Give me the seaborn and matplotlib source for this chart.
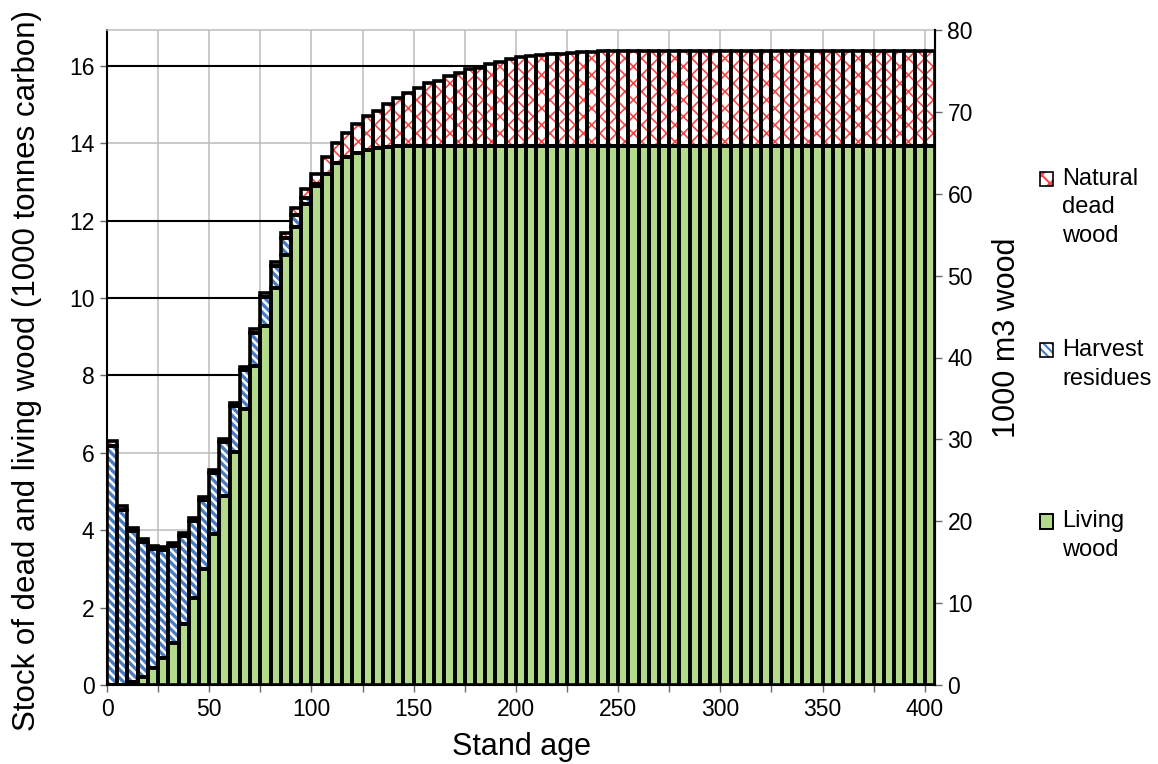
"""
Stacked stock of dead and living wood by stand age
"""

import matplotlib
matplotlib.use("Agg")
import matplotlib.pyplot as plt
import matplotlib.patches as mpatches
from matplotlib.ticker import MultipleLocator
import seaborn as sns
import numpy as np
import pandas as pd

# stand age classes (5-year steps)
ages = list(range(0, 405, 5))

# 1000 tonnes carbon
living = [
    0.00, 0.00, 0.08, 0.21, 0.43, 0.69, 1.08, 1.58, 2.24, 3.00,
    3.90, 4.89, 6.01, 7.13, 8.25, 9.28, 10.25, 11.11, 11.85, 12.43,
    12.90, 13.22, 13.48, 13.65, 13.76, 13.83, 13.87, 13.90, 13.92, 13.92,
    13.92, 13.92, 13.92, 13.92, 13.92, 13.92, 13.92, 13.92, 13.92, 13.92,
    13.92, 13.92, 13.92, 13.92, 13.92, 13.92, 13.92, 13.92, 13.92, 13.92,
    13.92, 13.92, 13.92, 13.92, 13.92, 13.92, 13.92, 13.92, 13.92, 13.92,
    13.92, 13.92, 13.92, 13.92, 13.92, 13.92, 13.92, 13.92, 13.92, 13.92,
    13.92, 13.92, 13.92, 13.92, 13.92, 13.92, 13.92, 13.92, 13.92, 13.92,
    13.92,
]
harvest = [
    6.19, 4.53, 3.89, 3.48, 3.08, 2.80, 2.50, 2.28, 2.00, 1.79,
    1.58, 1.40, 1.21, 1.02, 0.86, 0.75, 0.59, 0.45, 0.30, 0.15,
    0.05, 0.00, 0.00, 0.00, 0.00, 0.00, 0.00, 0.00, 0.00, 0.00,
    0.00, 0.00, 0.00, 0.00, 0.00, 0.00, 0.00, 0.00, 0.00, 0.00,
    0.00, 0.00, 0.00, 0.00, 0.00, 0.00, 0.00, 0.00, 0.00, 0.00,
    0.00, 0.00, 0.00, 0.00, 0.00, 0.00, 0.00, 0.00, 0.00, 0.00,
    0.00, 0.00, 0.00, 0.00, 0.00, 0.00, 0.00, 0.00, 0.00, 0.00,
    0.00, 0.00, 0.00, 0.00, 0.00, 0.00, 0.00, 0.00, 0.00, 0.00,
    0.00,
]
natural = [
    0.12, 0.10, 0.10, 0.09, 0.08, 0.08, 0.08, 0.08, 0.08, 0.08,
    0.08, 0.08, 0.08, 0.08, 0.08, 0.09, 0.10, 0.12, 0.17, 0.23,
    0.27, 0.42, 0.52, 0.62, 0.74, 0.87, 0.97, 1.12, 1.24, 1.39,
    1.50, 1.63, 1.70, 1.82, 1.91, 1.99, 2.04, 2.13, 2.19, 2.25,
    2.30, 2.33, 2.37, 2.39, 2.40, 2.42, 2.44, 2.45, 2.46, 2.47,
    2.47, 2.47, 2.47, 2.47, 2.47, 2.47, 2.47, 2.47, 2.47, 2.47,
    2.47, 2.47, 2.47, 2.47, 2.47, 2.47, 2.47, 2.47, 2.47, 2.47,
    2.47, 2.47, 2.47, 2.47, 2.47, 2.47, 2.47, 2.47, 2.47, 2.47,
    2.47,
]

components = ["Natural dead wood", "Harvest residues", "Living wood"]
legend_labels = ["\n\nNatural\ndead\nwood", "\n\nHarvest\nresidues\n", "\n\nLiving\nwood\n"]

GREEN = "#b3da8a"
BLUE = "#4a7dc0"
RED = "#f44848"
GRID = "#bcbcbc"

sns.set_theme(style="white")
plt.rcParams["font.family"] = ["Liberation Sans", "DejaVu Sans"]
plt.rcParams["text.color"] = "black"
plt.rcParams["axes.labelcolor"] = "black"
plt.rcParams["hatch.linewidth"] = 1.5

df = pd.DataFrame({
    "age": ages * 3,
    "stock": natural + harvest + living,
    "component": np.repeat(components, len(ages)),
})

fig = plt.figure(figsize=(11.58, 7.64), dpi=100)
ax = fig.add_axes([107 / 1158, 1 - 685 / 764, 828 / 1158, 655 / 764])

sns.histplot(data=df, x="age", weights="stock", hue="component",
             hue_order=components, multiple="stack", binwidth=5,
             binrange=(0, 405), palette=["white", "white", GREEN],
             alpha=1, linewidth=0, legend=False, ax=ax)

# style each stacked layer, found by matching bar heights to the data
styles = {
    "Living wood": (living, GREEN, None, None, 0),
    "Harvest residues": (harvest, "white", BLUE, "\\\\\\\\", 2.4),
    "Natural dead wood": (natural, "white", RED, "xx", 1.2),
}
for cont in list(ax.containers):
    heights = np.array([p.get_height() for p in cont.patches])
    for name, (vals, face, hcol, hatch, hlw) in styles.items():
        if len(heights) == len(vals) and np.allclose(heights, vals):
            for p in cont.patches:
                p.set_facecolor(face)
                p.set_linewidth(0)
                if hatch:
                    p.set_edgecolor(hcol)
                    p.set_hatch(hatch)
                    if hasattr(p, "set_hatch_linewidth"):
                        p.set_hatch_linewidth(hlw)
                ax.add_patch(mpatches.Rectangle(
                    p.get_xy(), p.get_width(), p.get_height(), fill=False,
                    edgecolor="black", linewidth=2.6, zorder=3))
            break

ax.set_xlim(0, 405)
ax.set_ylim(0, 16.93)
ax.xaxis.set_major_locator(MultipleLocator(50))
ax.xaxis.set_minor_locator(MultipleLocator(25))
ax.yaxis.set_major_locator(MultipleLocator(2))
ax.set_axisbelow(True)
ax.grid(axis="x", which="both", color=GRID, linewidth=1.1)
ax.grid(axis="y", which="major", color=GRID, linewidth=1.1)
for v in [8, 10, 12, 16]:
    ax.axhline(v, color="black", linewidth=1.5, zorder=0.8)

ax.tick_params(axis="both", which="both", direction="out", length=5, width=1,
               color="#666666", labelsize=16.5, labelcolor="black", pad=4)
ax.tick_params(axis="x", which="both", bottom=True)
ax.tick_params(axis="y", left=True)
for s in ["left", "bottom", "right"]:
    ax.spines[s].set_color("black")
    ax.spines[s].set_linewidth(1.5)
ax.spines["top"].set_color(GRID)
ax.spines["top"].set_linewidth(1.1)

ax.set_xlabel("Stand age", fontsize=22)
ax.set_ylabel("Stock of dead and living wood (1000 tonnes carbon)", fontsize=22.5)
ax.xaxis.set_label_coords(0.5, -0.072)
ax.yaxis.set_label_coords(-0.078, 0.48)

ax2 = ax.twinx()
ax2.set_ylim(0, 80)
ax2.yaxis.set_major_locator(MultipleLocator(10))
ax2.grid(False)
for s in ["left", "bottom", "top"]:
    ax2.spines[s].set_visible(False)
ax2.spines["right"].set_color("black")
ax2.spines["right"].set_linewidth(1.5)
ax2.tick_params(axis="y", direction="out", length=5, width=1, color="#666666",
                labelsize=16.5, labelcolor="black", pad=4, right=True)
ax2.set_ylabel("1000 m3 wood", fontsize=22)
ax2.yaxis.set_label_coords(1.069, 0.53)

# legend with the marker beside the first line of each label
handles = []
for name in components:
    vals, face, hcol, hatch, hlw = styles[name]
    fill = mpatches.Patch(facecolor=face, edgecolor=hcol if hatch else "black",
                          hatch=hatch, linewidth=0 if hatch else 1.2)
    edge = mpatches.Patch(facecolor="none", edgecolor="black", linewidth=1.2)
    handles.append((fill, edge))

leg = fig.legend(handles, legend_labels, loc="upper left",
                 bbox_to_anchor=(1040 / 1158, 1 - 111 / 764),
                 frameon=False, fontsize=17, borderpad=0, borderaxespad=0,
                 handlelength=0.55, handleheight=0.55, handletextpad=0.4,
                 labelspacing=1.5)
for t in leg.get_texts():
    t.set_linespacing(1.38)

fig.savefig("out.png", dpi=100)
